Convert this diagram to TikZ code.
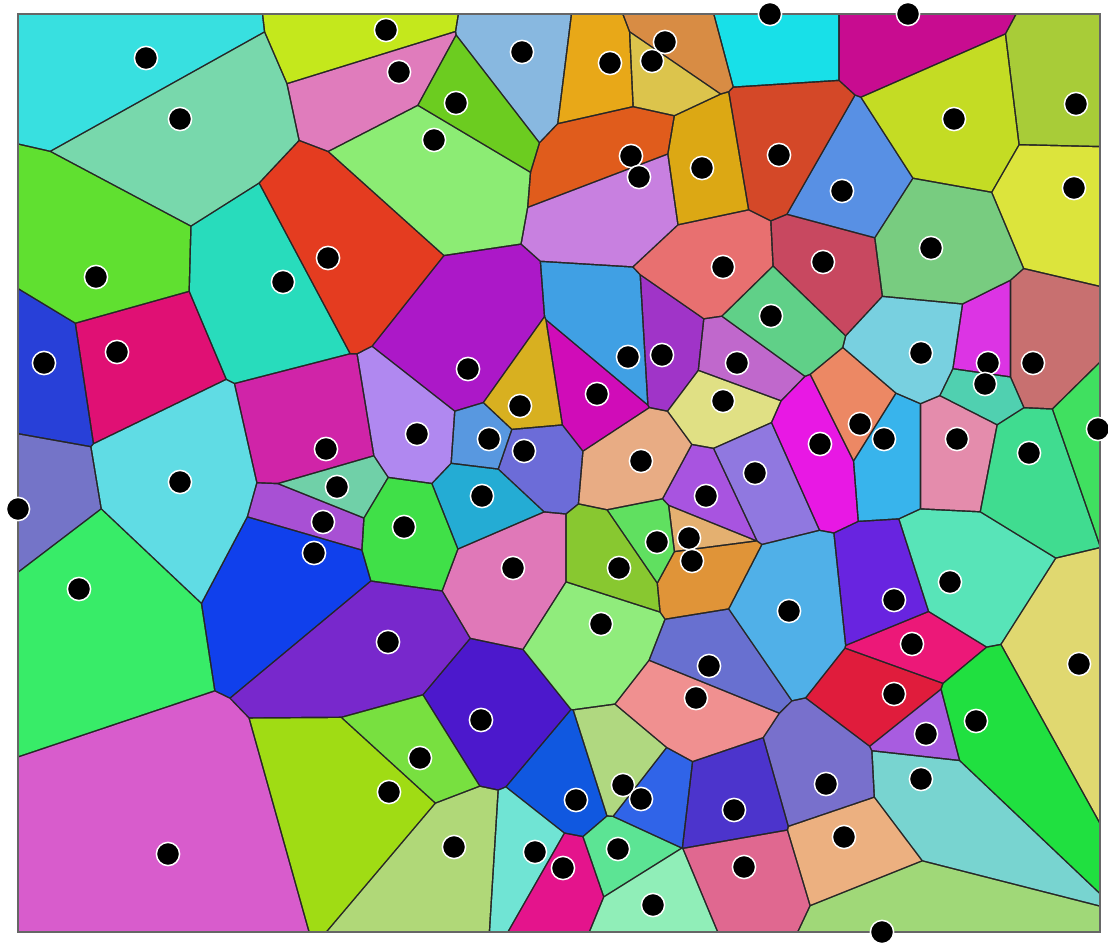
\documentclass[tikz,border=0pt]{standalone}
\usetikzlibrary{calc}
\newcommand\sitelist{146/58/38E0E0, 180/119/78D8AC, 386/30/C4E81C, 399/72/E07CBC,
  456/103/6CCC20, 434/140/8CEC74, 522/52/88B8E0, 610/63/E8A818, 652/61/DCC44C,
  665/42/D88C44, 631/156/E05C1C, 639/177/C880E0, 702/168/DCA814, 723/267/E87070,
  770/14/18E0E8, 908/14/C80C90, 1076/104/A8CC38, 954/119/C4DC24, 779/155/D44828,
  842/191/5890E4, 1074/188/DCE43C, 931/248/78CC80, 823/262/C84860, 771/316/60D088,
  96/277/60E030, 283/282/28DCBC, 328/258/E43C20, 44/363/2840D8, 117/352/E01074,
  180/482/60DCE4, 18/509/7474C8, 79/589/38EC68, 326/449/D024A8, 337/487/70D0A8,
  323/522/A850D4, 314/553/1040EC, 468/369/AC18C8, 520/406/D8B020, 597/394/D00CB8,
  628/357/40A0E4, 662/355/A034C8, 737/363/C068CC, 723/401/E0E084, 417/434/B088F0,
  489/439/5898E0, 524/451/6C6CD8, 641/461/E8AC84, 706/496/A854E0, 482/496/24ACD4,
  404/527/40E048, 513/568/E078B8, 619/568/88C830, 657/542/60E060, 689/538/E4B070,
  692/561/E09438, 601/624/90EC7C, 755/473/9078E0, 921/353/78D0E0, 988/363/DC34E4,
  985/384/50D0B0, 1033/363/C87070, 1098/429/40E060, 820/444/E818E4, 860/424/EC8864,
  884/439/38B4EC, 957/439/E48CAC, 1029/453/40DC90, 950/582/58E4B8, 894/600/6824E0,
  789/611/50B0E8, 168/854/D85CCC, 388/642/7828CC, 709/666/6870D0, 696/698/F09090,
  481/720/4C18CC, 420/758/78E040, 389/792/A0DC14, 576/800/1058E0, 623/785/B0D880,
  641/799/3064E8, 734/810/4C34CC, 454/847/B0D878, 535/852/70E4D4, 563/868/E4148C,
  618/849/5CE494, 653/905/90EEB8, 744/867/E06890, 912/644/EC1878, 894/694/E01C3C,
  1079/664/E0D870, 976/721/20E040, 926/734/A85CE0, 921/779/78D4D0, 826/784/7870CC,
  844/837/ECB080, 882/932/A0D878}
\begin{document}
\begin{tikzpicture}[
  x=0.5pt, y=-0.5pt,
  frame/.style={draw=black!60, line width=0.8pt},
  border/.style={fill=black!85},
  site/.style={fill=black, draw=white, line width=0.75pt}
]
\useasboundingbox (0,0) rectangle (1108,947);
\fill[border] (18,14) rectangle (1100,932);
\foreach \xa/\ya/\cellhex [count=\i] in \sitelist {
  \definecolor{cellcol}{HTML}{\cellhex}
  \begin{scope}
    \foreach \xb/\yb/\otherhex [count=\j] in \sitelist {
      \ifnum\i=\j\else
      \ifnum\numexpr(\xb-\xa)*(\xb-\xa)+(\yb-\ya)*(\yb-\ya)\relax<313600\relax
        \coordinate (mid) at ($(\xa,\ya)!0.5!(\xb,\yb)!0.42pt!(\xa,\ya)$);
        \clip ($(mid)!2000pt!90:(\xa,\ya)$) -- ($(mid)!2000pt!-90:(\xa,\ya)$)
          -- ($(mid)!2000pt!(\xa,\ya)$) -- cycle;
      \fi\fi
    }
    \fill[cellcol] (18,14) rectangle (1100,932);
  \end{scope}
}
\draw[frame] (18,14) rectangle (1100,932);
\foreach \xa/\ya/\cellhex in \sitelist
  \path[site] (\xa,\ya) circle[radius=5.8pt];
\end{tikzpicture}
\end{document}
